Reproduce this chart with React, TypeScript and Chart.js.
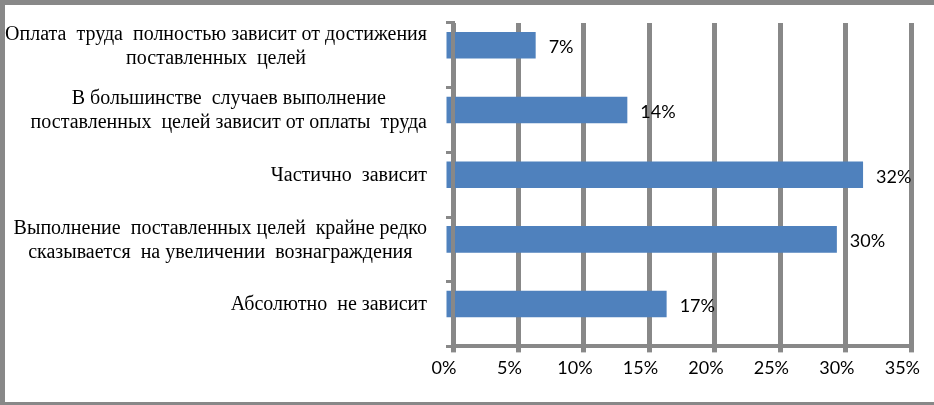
import React, { useEffect, useRef } from "react";
import { Chart, registerables } from "chart.js";

Chart.register(...registerables);

const categoryLines: string[][] = [
  ["Оплата  труда  полностью зависит от достижения", "поставленных  целей"],
  ["В большинстве  случаев выполнение", "поставленных  целей зависит от оплаты  труда"],
  ["Частично  зависит"],
  ["Выполнение  поставленных целей  крайне редко", "сказывается  на увеличении  вознаграждения"],
  ["Абсолютно  не зависит"],
];
const categories = categoryLines.map((l) => l.join(" "));
const values = [7, 14, 32, 30, 17];
const xMin = 0;
const xMax = 35;
const xStep = 5;

const GRAY = "#888888";
const BAR = "#4F81BD";
const SANS = "Lato, 'Open Sans', sans-serif";
const SERIF = "'Liberation Serif', 'DejaVu Serif', serif";
const SHIFT_X = -9;
const SHIFT_Y = -10;

const framePlugin = {
  id: "frame",
  beforeDraw(chart: any) {
    const { ctx, width, height } = chart;
    ctx.save();
    ctx.fillStyle = "#ffffff";
    ctx.fillRect(0, 0, width, height);
    ctx.fillStyle = GRAY;
    ctx.fillRect(0, 0, width, 5);
    ctx.fillRect(0, 0, 5, height);
    ctx.fillRect(0, height - 3, width, 3);
    ctx.restore();
  },
};

const shiftPlugin = {
  id: "shift",
  beforeDatasetsDraw(chart: any) {
    chart.ctx.save();
    chart.ctx.translate(SHIFT_X, SHIFT_Y);
  },
  afterDatasetsDraw(chart: any) {
    chart.ctx.restore();
    const { ctx, chartArea } = chart;
    const meta = chart.getDatasetMeta(0);
    ctx.save();
    ctx.font = `18px ${SANS}`;
    ctx.fillStyle = "#000000";
    ctx.textAlign = "left";
    ctx.textBaseline = "middle";
    meta.data.forEach((bar: any, i: number) => {
      ctx.fillText(`${values[i]}%`, bar.x + SHIFT_X + 13, bar.y + SHIFT_Y + 2);
    });
    ctx.font = `20px ${SERIF}`;
    ctx.textAlign = "center";
    const yScale = chart.scales.y;
    const rightEdge = chartArea.left - 26;
    const lh = 24;
    categoryLines.forEach((lines, i) => {
      const cy = yScale.getPixelForValue(i) + SHIFT_Y;
      const w = Math.max(...lines.map((s) => ctx.measureText(s).width));
      const cx = rightEdge - w / 2;
      const y0 = cy - ((lines.length - 1) * lh) / 2;
      lines.forEach((s, j) => ctx.fillText(s, cx, y0 + j * lh + 1));
    });
    ctx.restore();
  },
};

export default function App() {
  const ref = useRef<HTMLCanvasElement>(null);
  useEffect(() => {
    document.body.style.margin = "0";
    const chart = new Chart(ref.current!, {
      type: "bar",
      data: {
        labels: categories,
        datasets: [
          {
            data: values,
            backgroundColor: BAR,
            borderWidth: 0,
            barPercentage: 0.41,
            categoryPercentage: 1,
            clip: false as any,
          },
        ],
      },
      options: {
        indexAxis: "y",
        responsive: false,
        animation: false,
        layout: { padding: { left: 446, right: 20, top: 23, bottom: 21 } },
        plugins: { legend: { display: false }, tooltip: { enabled: false } },
        scales: {
          x: {
            min: xMin,
            max: xMax,
            ticks: {
              stepSize: xStep,
              callback: (v: any) => `${v}%`,
              font: { size: 18, family: SANS },
              color: "#000000",
              padding: 5,
              labelOffset: SHIFT_X,
            },
            grid: { color: GRAY, lineWidth: 5, drawTicks: true, tickLength: 6 },
            border: { color: GRAY, width: 4 },
          },
          y: {
            ticks: { display: false },
            grid: { drawOnChartArea: false, drawTicks: true, tickLength: 7, color: GRAY, lineWidth: 3 },
            border: { color: GRAY, width: 4, z: 1 },
          },
        },
      },
      plugins: [framePlugin, shiftPlugin],
    });
    return () => chart.destroy();
  }, []);
  return <canvas ref={ref} width={934} height={405} style={{ display: "block" }} />;
}
